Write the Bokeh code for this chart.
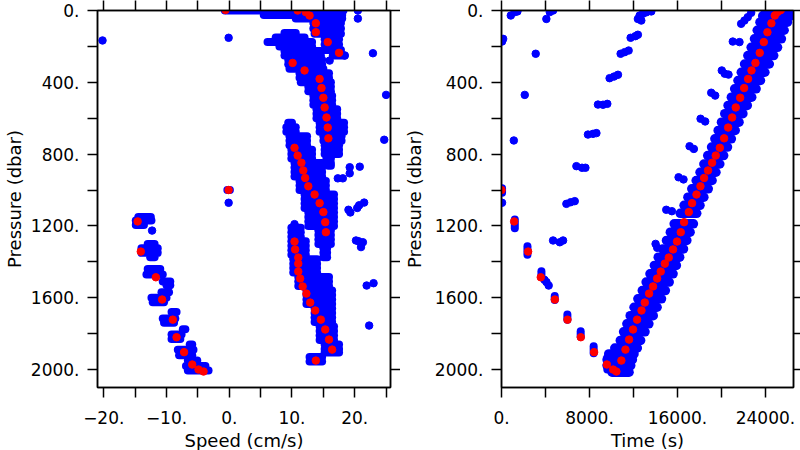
from bokeh.plotting import figure
from bokeh.layouts import row
from bokeh.models import Range1d, FixedTicker, LinearAxis
from bokeh.embed import file_html
from bokeh.resources import INLINE

# ---------------- data ----------------
# mean profile (red): pressure (dbar), speed (cm/s), time (s)
red_p = [1000, 1175, 1343, 1486, 1610, 1722, 1820, 1903, 1972, 2000, 2011,
         1950, 1889, 1833, 1777, 1722, 1671, 1627, 1577, 1537, 1493,
         1454, 1410, 1376, 1331, 1287, 1235, 1179, 1123, 1073, 1025,
         979, 933, 891, 848, 808, 765, 712, 652, 596, 540,
         486, 432, 381, 334, 292, 236, 176, 121, 71, 28, 9, 0, -3]
red_speed = [-0.1, -14.6, -14.1, -11.7, -10.7, -9.0, -8.4, -7.2, -5.9, -4.9, -4.1,
             13.8, 16.4, 15.9, 15.3, 14.6, 13.7, 12.9, 12.3, 11.7, 11.3,
             11.0, 11.0, 11.0, 10.5, 10.4, 15.4, 15.3, 15.0, 14.4, 13.6,
             12.6, 12.1, 11.8, 11.5, 10.9, 10.4, 15.8, 15.7, 15.5, 15.2,
             15.0, 14.7, 14.4, 12.0, 10.1, 17.5, 15.7, 13.8, 13.8, 12.8, 12.2, 10.9, -0.6]
red_time = [0, 1150, 2420, 3570, 4850, 6000, 7210, 8420, 9580, 10150, 10450,
            10900, 11270, 11600, 11960, 12330, 12730, 13030, 13420, 13780, 14150,
            14480, 14850, 15210, 15600, 15960, 16300, 16600, 17030, 17330, 17730,
            18090, 18420, 18780, 19150, 19480, 19850, 20240, 20610, 20970, 21300,
            21700, 22060, 22420, 22730, 23090, 23480, 23850, 24180, 24540, 24850, 25090, 25300, 25400]

# individual samples (blue), speed panel: dense rows (pressure, speed from, speed to)
lrow_p = [0, 25, 45, 70, 100, 130, 160, 190, 220, 250,
          125, 150, 175, 200, 225, 250, 275, 300, 325, 350, 375, 400, 425, 450, 475, 500,
          525, 550, 575, 600, 625, 650, 675, 700, 725, 750, 775, 800, 825, 850, 865,
          625, 650, 675, 700, 725, 750, 775, 800, 825, 850, 875, 900, 925, 950, 975, 1000,
          1025, 1050, 1075, 1100, 1125, 1150, 1175, 1200, 1225, 1250, 1275, 1300, 1325, 1350, 1375,
          1210, 1235, 1260, 1285, 1310, 1335, 1360, 1385, 1410, 1435, 1460, 1485, 1510, 1535,
          1560, 1585, 1610, 1635, 1660, 1685, 1710, 1735, 1760, 1785, 1810, 1835, 1860, 1885,
          1905, 1930, 1955,
          1150, 1170, 1195, 1300, 1325, 1350, 1375, 1440, 1470, 1510, 1530, 1570, 1600, 1625,
          1680, 1715, 1740, 1775, 1805, 1830, 1860, 1890, 1920, 1950, 1980, 2005, 1000]
lrow_s0 = [-0.7, 5.5, 10.6, 13.4, 13.4, 13.6, 15.2, 15.2, 15.2, 16.5,
           8.8, 7.4, 6.1, 8.0, 8.8, 8.8, 9.4, 9.4, 9.6, 11.2, 11.2, 11.4, 12.6, 12.6, 13.4, 13.4,
           13.4, 13.9, 13.9, 13.9, 14.4, 14.4, 14.4, 15.0, 15.0, 15.2, 15.2, 15.2, 15.5, 15.5, 15.8,
           9.4, 9.1, 9.1, 9.6, 9.6, 9.6, 9.9, 9.9, 9.9, 10.4, 10.4, 10.4, 10.4, 11.2, 11.2, 11.2,
           12.0, 12.0, 12.0, 12.0, 12.6, 12.6, 12.6, 12.6, 14.2, 14.2, 14.2, 14.2, 15.0, 15.0, 15.0,
           9.9, 9.9, 9.9, 9.9, 9.9, 9.9, 9.9, 10.2, 10.2, 10.2, 10.2, 11.0, 11.0, 11.0,
           12.3, 12.3, 12.3, 12.3, 13.6, 13.6, 13.6, 13.6, 14.4, 14.4, 14.4, 14.4, 15.2, 15.2,
           15.2, 12.8, 12.8,
           -14.5, -14.9, -14.9, -13.0, -14.0, -14.0, -12.6, -13.0, -13.2, -10.6, -10.0, -10.8, -12.4, -12.2,
           -9.2, -10.6, -10.4, -7.4, -9.2, -9.2, -6.3, -8.2, -8.0, -6.6, -6.9, -6.6, -0.3]
lrow_s1 = [18.2, 18.0, 18.0, 17.8, 17.8, 17.8, 17.5, 17.5, 17.8, 18.4,
           10.6, 12.0, 13.2, 13.2, 14.6, 14.6, 14.8, 14.8, 15.0, 15.9, 15.9, 16.2, 16.2, 16.2, 16.4, 16.4,
           16.4, 17.2, 17.2, 17.2, 18.3, 18.3, 18.3, 17.9, 17.9, 17.5, 17.5, 17.5, 16.2, 16.2, 16.2,
           10.0, 10.6, 10.6, 12.4, 12.4, 12.4, 13.2, 13.2, 13.2, 14.8, 14.8, 14.8, 14.8, 15.4, 15.4, 15.4,
           16.7, 16.7, 16.7, 16.7, 16.7, 16.7, 16.7, 16.7, 16.2, 16.2, 16.2, 16.2, 15.6, 15.6, 15.6,
           11.4, 11.4, 11.4, 12.2, 12.2, 12.2, 12.2, 14.0, 14.0, 14.0, 14.0, 15.9, 15.9, 15.9,
           16.4, 16.4, 16.4, 16.4, 16.4, 16.4, 16.4, 16.4, 16.7, 16.7, 16.7, 16.7, 17.5, 17.5,
           17.5, 14.8, 14.8,
           -12.5, -12.4, -13.6, -11.9, -11.4, -11.4, -11.9, -11.0, -10.6, -9.4, -9.4, -9.6, -10.0, -10.4,
           -8.4, -8.6, -8.8, -7.0, -7.6, -7.8, -5.9, -5.7, -5.9, -5.1, -3.8, -3.3, 0.1]
# isolated samples, speed panel
ldot_s = [-20.2, -0.1, -0.1, 20.5, 20.5, 22.9, 25.0, 24.7, 19.2, 20.8, 17.3, 18.1, 19.2,
          19.0, 19.3, 20.4, 20.7, 21.5, 20.2, 21.3, 21.0, 20.6, 21.9, 23.0, 22.3, -12.3,
          10.4, 18.4, 16.0]
ldot_p = [167, 152, 1071, 0, 45, 238, 470, 720, 873, 870, 935, 935, 907,
          1110, 1125, 1100, 1085, 1070, 1281, 1291, 1318, 1285, 1532, 1519, 1755, 1226,
          1190, 251, 279]

# individual samples (blue), time panel: ascent band rows (pressure, time from, time to)
rrow_p = [5, 30, 65, 110, 158, 205, 251, 298, 344, 390, 436, 483, 529, 575, 622, 668,
          715, 761, 808, 855, 901, 947, 993, 1040, 1085, 1130, 1188, 1235, 1281, 1328,
          1374, 1420, 1467, 1513, 1560, 1606, 1653, 1700, 1745, 1790, 1838, 1880, 1913,
          1945, 1978, 2015]
rrow_t0 = [24000, 23750, 23500, 23250, 23000, 22700, 22400, 22100, 21800, 21500, 21200,
           20900, 20600, 20300, 20000, 19700, 19400, 19100, 18750, 18400, 18050, 17700,
           17300, 16950, 16600, 16250, 15700, 15350, 15000, 14650, 14250, 13900, 13500,
           13150, 12800, 12400, 12050, 11700, 11400, 11100, 10800, 10300, 9750, 9600, 9600, 10050]
rrow_t1 = [26400, 26300, 26000, 25700, 25450, 25100, 24750, 24350, 23950, 23550, 23150,
           22750, 22350, 21950, 21600, 21250, 20900, 20550, 20200, 19850, 19500, 19150,
           18800, 18400, 18050, 17750, 17450, 17150, 16850, 16550, 16200, 15900, 15600,
           15250, 14900, 14550, 14150, 13800, 13400, 13050, 12650, 12350, 12050, 11900, 11750, 11600]
# descent samples, time panel: vertical strips (time, pressure from, pressure to)
rstrip_t = [50, 1210, 2360, 3630, 4840, 5990, 7200, 8380, 9620]
rstrip_p0 = [990, 1164, 1313, 1452, 1591, 1693, 1786, 1870, 1933]
rstrip_p1 = [1015, 1213, 1361, 1482, 1612, 1723, 1816, 1909, 2000]
# isolated samples, time panel
rdot_t = [12400, 12560, 12860, 13170, 13620, 12710, 11740, 12170, 12400, 10830, 11200, 11560,
          9830, 10230, 10590, 8770, 9230, 9620, 7860, 8320, 8630, 6810, 7320, 7630,
          5900, 6290, 6660, 4690, 5300, 5600, 845, 1210, 1450, 150, 50, 3110, 2115, 1120,
          4080, 4390, 4690, 50, 3900, 4090, 4290,
          20030, 20300, 20640, 19070, 19430, 18100, 18520, 17100, 17490, 16100, 16550,
          21790, 22090, 22390, 22700, 21030, 21640, 14980, 15490, 14010, 14160]
rdot_p = [47, 28, 18, 10, 5, 56, 152, 143, 135, 241, 232, 223,
          377, 368, 358, 524, 525, 520, 691, 687, 683, 867, 876, 876,
          1077, 1068, 1062, 1281, 1291, 1281, 28, 9, 5, 158, 173, 241, 470, 724,
          47, 9, 0, 1071, 1500, 1513, 1532,
          334, 352, 357, 458, 474, 603, 618, 756, 771, 929, 941,
          74, 56, 37, 13, 173, 176, 1110, 1118, 1300, 1322]

# ticks and tick labels
p_ticks = [0, 400, 800, 1200, 1600, 2000]
p_minor = [200, 600, 1000, 1400, 1800]
p_all = [0, 200, 400, 600, 800, 1000, 1200, 1400, 1600, 1800, 2000]
p_labels = ["0.", "400.", "800.", "1200.", "1600.", "2000."]
s_ticks = [-20, -10, 0, 10, 20]
s_minor = [-15, -5, 5, 15, 25]
s_labels = ["\u221220.", "\u221210.", "0.", "10.", "20."]
t_ticks = [0, 8000, 16000, 24000]
t_minor = [4000, 12000, 20000]
t_labels = ["0.", "8000.", "16000.", "24000."]

BLUE = "#0000ff"
RED = "#ff0000"
FONT = "DejaVu Sans"
TICK_FS = "17px"
LABEL_FS = "18px"


def style_axis(ax):
    ax.axis_line_color = "black"
    ax.axis_line_width = 1.5
    ax.major_tick_line_color = "black"
    ax.major_tick_line_width = 1.5
    ax.minor_tick_line_color = "black"
    ax.minor_tick_line_width = 1.5
    ax.major_tick_in = 0
    ax.major_tick_out = 10
    ax.minor_tick_in = 0
    ax.minor_tick_out = 10
    ax.major_label_text_font = FONT
    ax.major_label_text_font_size = TICK_FS
    ax.major_label_text_color = "black"
    ax.axis_label_text_font = FONT
    ax.axis_label_text_font_size = LABEL_FS
    ax.axis_label_text_font_style = "normal"
    ax.axis_label_text_color = "black"


def make_fig(fw, xr, bl, br, ylab_standoff, xt, xm, xl, xlabel):
    p = figure(frame_width=fw, frame_height=377, x_range=xr, y_range=Range1d(2100, 0),
               output_backend="svg", toolbar_location=None,
               min_border_left=bl, min_border_right=br, min_border_top=10,
               min_border_bottom=60, x_axis_label=xlabel, y_axis_label="Pressure (dbar)")
    p.xgrid.visible = False
    p.ygrid.visible = False
    p.outline_line_color = "black"
    p.outline_line_width = 1.5
    p.outline_line_alpha = 1
    p.background_fill_color = "white"
    p.border_fill_color = "white"

    p.xaxis.ticker = FixedTicker(ticks=xt, minor_ticks=xm)
    p.xaxis.major_label_overrides = {k: v for k, v in zip(xt, xl)}
    p.yaxis.ticker = FixedTicker(ticks=p_ticks, minor_ticks=p_minor)
    p.yaxis.major_label_overrides = {k: v for k, v in zip(p_ticks, p_labels)}
    for ax in p.xaxis:
        style_axis(ax)
        ax.major_label_standoff = 13
        ax.axis_label_standoff = 3
    for ax in p.yaxis:
        style_axis(ax)
        ax.major_label_standoff = 8
        ax.axis_label_standoff = ylab_standoff

    # ticks only on the right and top sides (no labels)
    rax = LinearAxis(ticker=FixedTicker(ticks=[], minor_ticks=p_all))
    style_axis(rax)
    rax.major_label_standoff = 0
    p.add_layout(rax, "right")
    tax = LinearAxis(ticker=FixedTicker(ticks=[], minor_ticks=xt + xm))
    style_axis(tax)
    tax.major_label_standoff = 0
    p.add_layout(tax, "above")
    return p


p1 = make_fig(293, Range1d(-21, 25.7), 95, 10, 3, s_ticks, s_minor, s_labels, "Speed (cm/s)")
p1.segment(x0=lrow_s0, y0=lrow_p, x1=lrow_s1, y1=lrow_p, line_color=BLUE,
           line_width=8, line_cap="round")
p1.scatter(x=ldot_s, y=ldot_p, size=7.5, fill_color=BLUE, line_color=BLUE, line_width=1)
p1.scatter(x=red_speed, y=red_p, size=7.5, fill_color=RED, line_color=RED, line_width=1)

p2 = make_fig(292, Range1d(0, 26550), 99, 11, 7, t_ticks, t_minor, t_labels, "Time (s)")
p2.segment(x0=rrow_t0, y0=rrow_p, x1=rrow_t1, y1=rrow_p, line_color=BLUE,
           line_width=9.5, line_cap="round")
p2.segment(x0=rstrip_t, y0=rstrip_p0, x1=rstrip_t, y1=rstrip_p1, line_color=BLUE,
           line_width=8, line_cap="round")
p2.scatter(x=rdot_t, y=rdot_p, size=7.5, fill_color=BLUE, line_color=BLUE, line_width=1)
p2.scatter(x=red_time, y=red_p, size=7.5, fill_color=RED, line_color=RED, line_width=1)

layout = row(p1, p2)
open("out.html", "w").write(file_html(layout, INLINE))
